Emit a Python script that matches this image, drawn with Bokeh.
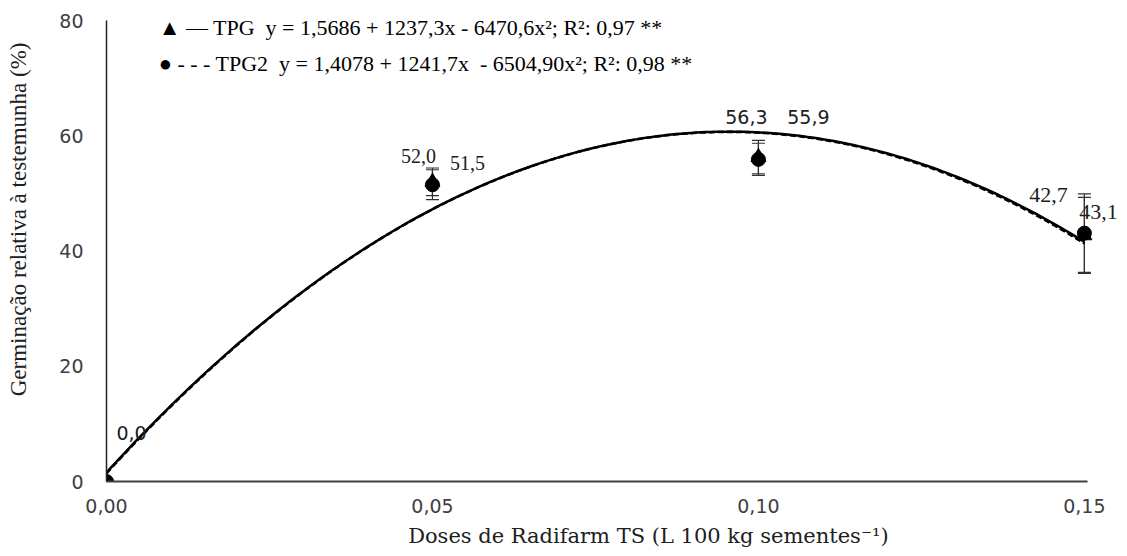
import numpy as np
from bokeh.plotting import figure
from bokeh.models import Range1d, FixedTicker, ColumnDataSource, Whisker, TeeHead, LabelSet, Label
from bokeh.embed import file_html
from bokeh.resources import INLINE

# ---- data ----
doses = [0.00, 0.05, 0.10, 0.15]
tpg = [0.0, 52.0, 56.3, 42.7]
tpg2 = [0.0, 51.5, 55.9, 43.1]
tpg_err = [0.0, 2.4, 2.9, 6.6]
tpg2_err = [0.0, 2.6, 2.8, 6.8]
tpg_coef = [1.5686, 1237.3, -6470.6]
tpg2_coef = [1.4078, 1241.7, -6504.90]
tpg_labels = ["0,0", "52,0", "56,3", "42,7"]
tpg2_labels = ["", "51,5", "55,9", "43,1"]
x_ticks = [0.0, 0.05, 0.10, 0.15]
x_tick_labels = ["0,00", "0,05", "0,10", "0,15"]
y_ticks = [0, 20, 40, 60, 80]
NB = "\u00a0"
legend_texts = [
    "▲ — TPG" + NB + NB + "y = 1,5686 + 1237,3x - 6470,6x²; R²: 0,97 **",
    "● - - - TPG2" + NB + NB + "y = 1,4078 + 1241,7x" + NB + NB + "- 6504,90x²; R²: 0,98 **",
]
x_title = "Doses de Radifarm TS (L 100 kg sementes⁻¹)"
y_title = "Germinação relativa à testemunha (%)"

SERIF = "Liberation Serif"
SANS = "DejaVu Sans"

p = figure(width=1125, height=550,
           x_range=Range1d(0, 0.156), y_range=Range1d(0, 80),
           output_backend="svg", toolbar_location=None,
           min_border_left=106, min_border_right=2,
           min_border_top=20, min_border_bottom=68)
p.outline_line_color = None
p.grid.grid_line_color = None
p.background_fill_color = "white"

# axes
for ax in (p.xaxis, p.yaxis):
    ax.major_tick_line_color = None
    ax.minor_tick_line_color = None
    ax.major_tick_out = 0
    ax.major_tick_in = 0
    ax.major_label_text_font = SANS
    ax.major_label_text_font_size = "19px"
    ax.major_label_text_color = "#404040"
    ax.axis_label_text_font_style = "normal"
    ax.axis_label_text_color = "#202020"

p.xaxis.ticker = FixedTicker(ticks=x_ticks)
p.xaxis.major_label_overrides = {t: l for t, l in zip(x_ticks, x_tick_labels)}
p.xaxis.bounds = (0, 0.1505)
p.xaxis.axis_line_color = "#404040"
p.xaxis.axis_line_width = 2
p.xaxis.major_label_standoff = 17
p.xaxis.axis_label = NB * 10 + x_title
p.xaxis.axis_label_text_font = "DejaVu Serif"
p.xaxis.axis_label_text_font_size = "21px"
p.xaxis.axis_label_standoff = 8

p.yaxis.ticker = FixedTicker(ticks=y_ticks)
p.yaxis.bounds = (0, 80)
p.yaxis.axis_line_color = "#202020"
p.yaxis.axis_line_width = 1.5
p.yaxis.major_label_standoff = 23
p.yaxis.axis_label = NB * 11 + y_title
p.yaxis.axis_label_text_font = SERIF
p.yaxis.axis_label_text_font_size = "23px"
p.yaxis.axis_label_standoff = 25

# regression curves
xs = np.linspace(0, 0.15, 200)
y1 = tpg_coef[0] + tpg_coef[1] * xs + tpg_coef[2] * xs ** 2
y2 = tpg2_coef[0] + tpg2_coef[1] * xs + tpg2_coef[2] * xs ** 2
p.line(xs, y1, line_color="black", line_width=2.5)
p.line(xs, y2, line_color="black", line_width=2.5, line_dash="6 3")

# error bars
src1 = ColumnDataSource(dict(x=doses, y=tpg, lo=[v - e for v, e in zip(tpg, tpg_err)],
                             hi=[v + e for v, e in zip(tpg, tpg_err)]))
src2 = ColumnDataSource(dict(x=doses, y=tpg2, lo=[v - e for v, e in zip(tpg2, tpg2_err)],
                             hi=[v + e for v, e in zip(tpg2, tpg2_err)]))
for s in (src1, src2):
    w = Whisker(source=s, base="x", upper="hi", lower="lo", dimension="height",
                line_color="#303030", line_width=1.2,
                upper_head=TeeHead(size=13, line_color="#303030", line_width=1.2),
                lower_head=TeeHead(size=13, line_color="#303030", line_width=1.2))
    p.add_layout(w)

# markers
p.scatter("x", "y", source=src1, marker="triangle", size=15, fill_color="black", line_color="black")
p.scatter("x", "y", source=src2, marker="circle", size=14, fill_color="black", line_color="black")

# data labels
lab1 = ColumnDataSource(dict(x=doses, y=tpg, t=tpg_labels,
                             xo=[25, -14, -12, -36], yo=[49, 26, 40, 40],
                             f=[SANS, SERIF, SANS, SERIF], fs=["19px", "20px", "19px", "22px"]))
lab2 = ColumnDataSource(dict(x=doses, y=tpg2, t=tpg2_labels,
                             xo=[25, 35, 50, 14], yo=[49, 22, 42, 21],
                             f=[SANS, SERIF, SANS, SERIF], fs=["19px", "20px", "19px", "22px"]))
for s in (lab1, lab2):
    p.add_layout(LabelSet(source=s, x="x", y="y", text="t", x_offset="xo", y_offset="yo",
                          text_align="center", text_baseline="middle",
                          text_font="f", text_font_size="fs", text_color="#202020"))

# legend text
legend_y = [78.8, 72.6]
for t, yy in zip(legend_texts, legend_y):
    p.add_layout(Label(x=0.008, y=yy, text=t, text_font=SERIF, text_font_size="22px",
                       text_baseline="middle", text_align="left", text_color="black"))

open("out.html", "w").write(file_html(p, INLINE))
